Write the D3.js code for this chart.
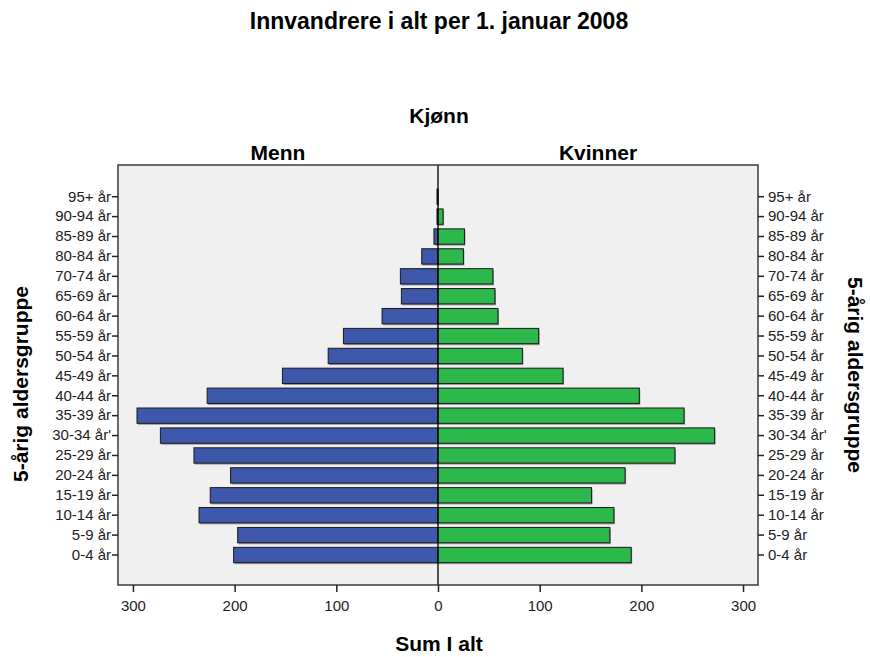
<!DOCTYPE html>
<html><head><meta charset="utf-8">
<script src="https://cdn.jsdelivr.net/npm/d3@7"></script>
<style>
body{margin:0;background:#fff;}
text{font-family:"Liberation Sans",Arial,sans-serif;}
</style></head>
<body><svg id="c" width="870" height="657"></svg>
<script>
const ageGroups = ["95+ år","90-94 år","85-89 år","80-84 år","70-74 år","65-69 år","60-64 år","55-59 år","50-54 år","45-49 år","40-44 år","35-39 år","30-34 år'","25-29 år","20-24 år","15-19 år","10-14 år","5-9 år","0-4 år"];
const menn    = [1, 1, 4, 16, 37, 36, 55, 93, 108, 153, 227, 296, 273, 240, 204, 224, 235, 197, 201];
const kvinner = [0, 5, 26, 25, 54, 56, 59, 99, 83, 123, 198, 242, 272, 233, 184, 151, 173, 169, 190];
const xTicks = [-300,-200,-100,0,100,200,300];
const title = "Innvandrere i alt per 1. januar 2008";

const svg = d3.select("#c");
const L=118, R=758, T=165, B=585;
const x = d3.scaleLinear().domain([-314.7,314.7]).range([L,R]);
const y = d3.scaleBand().domain(ageGroups).range([186.75,564.95]).paddingInner(0.23).paddingOuter(0.115);

svg.append("rect").attr("x",L).attr("y",T).attr("width",R-L).attr("height",B-T)
  .attr("fill","#f0f0f0");

const rows = ageGroups.map((g,i)=>({g, m:menn[i], k:kvinner[i]}));
const sh = svg.append("g").attr("fill","#9a9a9a");
rows.forEach(d=>{
  if(d.m>0) sh.append("rect").attr("x",x(-d.m)+1).attr("y",y(d.g)+1.5).attr("width",x(0)-x(-d.m)).attr("height",y.bandwidth());
  if(d.k>0) sh.append("rect").attr("x",x(0)+1).attr("y",y(d.g)+1.5).attr("width",x(d.k)-x(0)).attr("height",y.bandwidth());
});
svg.append("g").selectAll("rect").data(rows).join("rect")
  .attr("x",d=>x(-d.m)).attr("y",d=>y(d.g)).attr("width",d=>x(0)-x(-d.m)).attr("height",y.bandwidth())
  .attr("fill","#3d57ab").attr("stroke","#1a1a1a").attr("stroke-width",1);
svg.append("g").selectAll("rect").data(rows).join("rect")
  .attr("x",x(0)).attr("y",d=>y(d.g)).attr("width",d=>x(d.k)-x(0)).attr("height",y.bandwidth())
  .attr("fill","#2db84b").attr("stroke","#1a1a1a").attr("stroke-width",1);

svg.append("line").attr("x1",x(0)).attr("x2",x(0)).attr("y1",T).attr("y2",B).attr("stroke","#000").attr("stroke-width",1.3);

svg.append("rect").attr("x",L).attr("y",T).attr("width",R-L).attr("height",B-T)
  .attr("fill","none").attr("stroke","#3a3a3a").attr("stroke-width",1.5);

const ax = d3.axisBottom(x).tickValues(xTicks).tickFormat(d=>Math.abs(d)).tickSizeOuter(0).tickSize(7);
const gx = svg.append("g").attr("transform",`translate(0,${B})`).call(ax);
gx.select(".domain").remove();
gx.selectAll("line").attr("stroke","#222").attr("stroke-width",1.5);
gx.selectAll("text").attr("font-size",15).attr("fill","#222").attr("y",26).attr("dy",null);

const ayL = d3.axisLeft(y).tickSize(6).tickSizeOuter(0);
const gl = svg.append("g").attr("transform",`translate(${L},0)`).call(ayL);
gl.select(".domain").remove();
gl.selectAll("line").attr("stroke","#222").attr("stroke-width",1.5);
gl.selectAll("text").attr("font-size",15).attr("fill","#222").attr("x",-7);

const ayR = d3.axisRight(y).tickSize(6).tickSizeOuter(0);
const gr = svg.append("g").attr("transform",`translate(${R},0)`).call(ayR);
gr.select(".domain").remove();
gr.selectAll("line").attr("stroke","#222").attr("stroke-width",1.5);
gr.selectAll("text").attr("font-size",15).attr("fill","#222").attr("x",10);

svg.append("text").attr("x",439).attr("y",29).attr("text-anchor","middle").attr("font-size",23).attr("font-weight","bold").text(title);
svg.append("text").attr("x",439).attr("y",123).attr("text-anchor","middle").attr("font-size",21).attr("font-weight","bold").text("Kjønn");
svg.append("text").attr("x",(L+x(0))/2).attr("y",160).attr("text-anchor","middle").attr("font-size",21).attr("font-weight","bold").text("Menn");
svg.append("text").attr("x",(R+x(0))/2).attr("y",160).attr("text-anchor","middle").attr("font-size",21).attr("font-weight","bold").text("Kvinner");
svg.append("text").attr("x",439).attr("y",651).attr("text-anchor","middle").attr("font-size",21).attr("font-weight","bold").text("Sum I alt");
svg.append("text").attr("transform","translate(28,384) rotate(-90)").attr("text-anchor","middle").attr("font-size",21).attr("font-weight","bold").text("5-årig aldersgruppe");
svg.append("text").attr("transform","translate(848,375) rotate(90)").attr("text-anchor","middle").attr("font-size",21).attr("font-weight","bold").text("5-årig aldersgruppe");
</script></body></html>
